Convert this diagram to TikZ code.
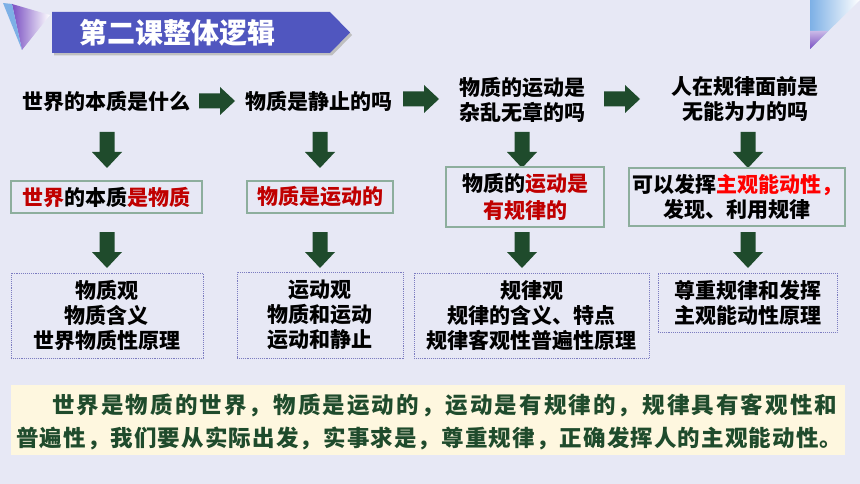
\documentclass[tikz,border=0pt]{standalone}
\usepackage{fontspec}
\setmainfont{Noto Sans CJK SC}
\definecolor{bg}{HTML}{E7E8F5}
\definecolor{banner}{HTML}{5056BF}
\definecolor{agreen}{HTML}{1F4B2C}
\definecolor{dred}{HTML}{C00000}
\definecolor{bred}{HTML}{FF0000}
\definecolor{boxg}{HTML}{8DAE9D}
\definecolor{dotc}{HTML}{7C7CC0}
\definecolor{cream}{HTML}{FEF7DF}
\definecolor{tpurple}{HTML}{7A4FC2}
\definecolor{tblue}{HTML}{7DB0E6}
\ExplSyntaxOn
\NewDocumentCommand\spreadline{mm}{\hbox_to_wd:nn{#1}{\tl_map_inline:nn{#2}{##1\hfil}\unskip}}
\ExplSyntaxOff
\newcommand\rightblk[1]{\fill[agreen] (#1) ++(0,-7.5) -- ++(21,0) -- ++(0,-6.5) -- ++(15,14) -- ++(-15,14) -- ++(0,-6.5) -- ++(-21,0) -- cycle;}
\newcommand\downblk[1]{\fill[agreen] (#1) ++(-7.5,0) -- ++(15,0) -- ++(0,20) -- ++(7.5,0) -- ++(-15,16) -- ++(-15,-16) -- ++(7.5,0) -- cycle;}
\tikzset{
  qtext/.style={font=\bfseries\fontsize{21}{25}\selectfont, inner sep=0pt, align=center},
  solidbox/.style={qtext, draw=boxg, line width=1.2pt},
  dotbox/.style={qtext, draw=dotc, densely dotted, line width=0.9pt},
  sumtext/.style={font=\bfseries\fontsize{22.5}{24}\selectfont, inner sep=0pt, text=agreen},
}
\begin{document}
\begin{tikzpicture}[x=1pt,y=-1pt]
\fill[bg] (0,0) rectangle (860,484);
\useasboundingbox (0,0) rectangle (860,484);
% decorations
\shade[left color=tpurple, right color=white] (12,4) -- (50,15) -- (22,50) -- cycle;
\fill[tblue] (3,3) -- (12,4) -- (22,50) -- cycle;
\shade[left color=tblue, right color=white] (810,0) -- (860,0) -- (810,49) -- cycle;
\shade[top color=tpurple!40, bottom color=tpurple] (810,31) -- (828,31) -- (810,49) -- cycle;
% title banner
\fill[black!25] (54,14.5) -- (332,14.5) -- (352,35) -- (332,55.5) -- (54,55.5) -- cycle;
\fill[banner] (52,12) -- (330,12) -- (350,32.5) -- (330,53) -- (52,53) -- cycle;
\node[font=\bfseries\fontsize{28}{30}\selectfont, text=white, inner sep=0pt] (title) at (177,33) {第二课整体逻辑};
% row 1 questions
\node[qtext] (q1) at (107,101) {世界的本质是什么};
\node[qtext] (q2) at (319,101) {物质是静止的吗};
\node[qtext] (q3) at (522,99.5) {物质的运动是\\杂乱无章的吗};
\node[qtext] (q4) at (745,99.5) {人在规律面前是\\无能为力的吗};
% right arrows
\coordinate (ra1) at (199,101);
\coordinate (ra2) at (403,99);
\coordinate (ra3) at (604,99);
\rightblk{ra1}
\rightblk{ra2}
\rightblk{ra3}
% down arrows row 1
\coordinate (da1) at (107,132);
\coordinate (da2) at (320,132);
\coordinate (da3) at (522,132);
\coordinate (da4) at (748,132);
\downblk{da1}
\downblk{da2}
\downblk{da3}
\downblk{da4}
% row 2 answers
\node[solidbox, minimum width=191pt, minimum height=32pt] (b1) at (106.5,197) {\textcolor{dred}{世界}的本质\textcolor{dred}{是物质}};
\node[solidbox, minimum width=146pt, minimum height=32pt] (b2) at (320,197) {\textcolor{dred}{物质是运动的}};
\node[solidbox, minimum width=158pt, minimum height=60pt, font=\bfseries\fontsize{21}{27}\selectfont] (b3) at (525,197) {物质的\textcolor{dred}{运动是}\\\textcolor{dred}{有规律的}};
\node[solidbox, minimum width=216pt, minimum height=58pt] (b4) at (737,197) {可以发挥\textcolor{bred}{主观能动性，}\\发现、利用规律};
% down arrows row 2
\coordinate (db1) at (107,232);
\coordinate (db2) at (320,232);
\coordinate (db3) at (522,232);
\coordinate (db4) at (748,232);
\downblk{db1}
\downblk{db2}
\downblk{db3}
\downblk{db4}
% row 3 principles
\node[dotbox, minimum width=192pt, minimum height=85pt] (c1) at (107,315.5) {物质观\\物质含义\\世界物质性原理};
\node[dotbox, minimum width=166pt, minimum height=86pt] (c2) at (320,315) {运动观\\物质和运动\\运动和静止};
\node[dotbox, minimum width=235pt, minimum height=85pt] (c3) at (531.5,315.5) {规律观\\规律的含义、特点\\规律客观性普遍性原理};
\node[dotbox, minimum width=179pt, minimum height=59pt] (c4) at (747.5,302.5) {尊重规律和发挥\\主观能动性原理};
% summary
\node[fill=cream, inner sep=0pt, minimum width=834pt, minimum height=70pt] (sumbox) at (428,420) {};
\node[sumtext, anchor=west] (s1) at (52,405) {\spreadline{785pt}{世界是物质的世界，物质是运动的，运动是有规律的，规律具有客观性和}};
\node[sumtext, anchor=west] (s2) at (16,438) {\spreadline{826pt}{普遍性，我们要从实际出发，实事求是，尊重规律，正确发挥人的主观能动性。}};
\end{tikzpicture}
\end{document}
